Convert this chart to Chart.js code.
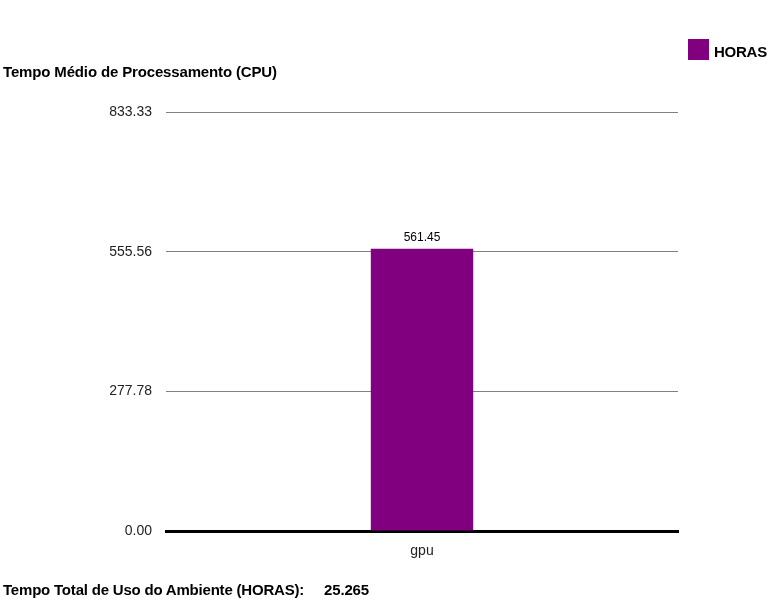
<!DOCTYPE html>
<html>
<head>
<meta charset="utf-8">
<script src="https://cdn.jsdelivr.net/npm/chart.js@4"></script>
<style>
  html,body{margin:0;padding:0;background:#fff;}
  #wrap{position:relative;width:768px;height:600px;font-family:"Liberation Sans",Arial,sans-serif;}
  canvas{position:absolute;left:0;top:0;}
  .t{position:absolute;font-weight:bold;font-size:15px;letter-spacing:-0.15px;color:#000;white-space:nowrap;line-height:16px;}
  .sw{position:absolute;left:688px;top:39px;width:21px;height:21px;background:#800080;}
</style>
</head>
<body>
<div id="wrap">
  <canvas id="c" width="768" height="600"></canvas>
  <div class="t" style="left:3px;top:64px;">Tempo Médio de Processamento (CPU)</div>
  <div class="sw"></div>
  <div class="t" style="left:714px;top:44px;letter-spacing:-0.25px;">HORAS</div>
  <div class="t" style="left:3px;top:582px;letter-spacing:-0.2px;">Tempo Total de Uso do Ambiente (HORAS):</div>
  <div class="t" style="left:324px;top:582px;">25.265</div>
</div>
<script>
const categories = ["gpu"];
const seriesName = "HORAS";
const horas = [561.45];
const tickValues = [0, 277.78, 555.56, 833.33];

const valueLabels = {
  id: 'valueLabels',
  afterDatasetsDraw(chart) {
    const ctx = chart.ctx;
    const meta = chart.getDatasetMeta(0);
    ctx.save();
    ctx.font = '12px "Liberation Sans", Arial, sans-serif';
    ctx.fillStyle = '#000';
    ctx.textAlign = 'center';
    ctx.textBaseline = 'bottom';
    meta.data.forEach((el, i) => {
      ctx.fillText(horas[i].toFixed(2), el.x, el.y - 5);
    });
    ctx.restore();
  }
};

new Chart(document.getElementById('c'), {
  type: 'bar',
  data: {
    labels: categories,
    datasets: [{
      label: seriesName,
      data: horas,
      backgroundColor: '#800080',
      borderWidth: 0,
      barPercentage: 0.2,
      categoryPercentage: 1.0
    }]
  },
  options: {
    responsive: false,
    animation: false,
    layout: { padding: { left: 0, top: 112, right: 90, bottom: 0 } },
    plugins: { legend: { display: false }, title: { display: false }, tooltip: { enabled: false } },
    scales: {
      x: {
        grid: { display: false, drawTicks: false },
        border: { display: true, color: '#000', width: 3 },
        ticks: { color: '#222', font: { family: '"Liberation Sans", Arial, sans-serif', size: 14 }, padding: 12 },
        afterFit(scale) { scale.height = 69; }
      },
      y: {
        min: 0,
        max: tickValues[tickValues.length - 1],
        afterBuildTicks(scale) { scale.ticks = tickValues.map(v => ({ value: v })); },
        grid: { color: '#808080', lineWidth: 1, drawTicks: false },
        border: { display: false },
        ticks: {
          color: '#222',
          font: { family: '"Liberation Sans", Arial, sans-serif', size: 14 },
          padding: 14,
          callback: (v) => Number(v).toFixed(2)
        },
        afterFit(scale) { scale.width = 166; }
      }
    }
  },
  plugins: [valueLabels]
});
</script>
</body>
</html>
